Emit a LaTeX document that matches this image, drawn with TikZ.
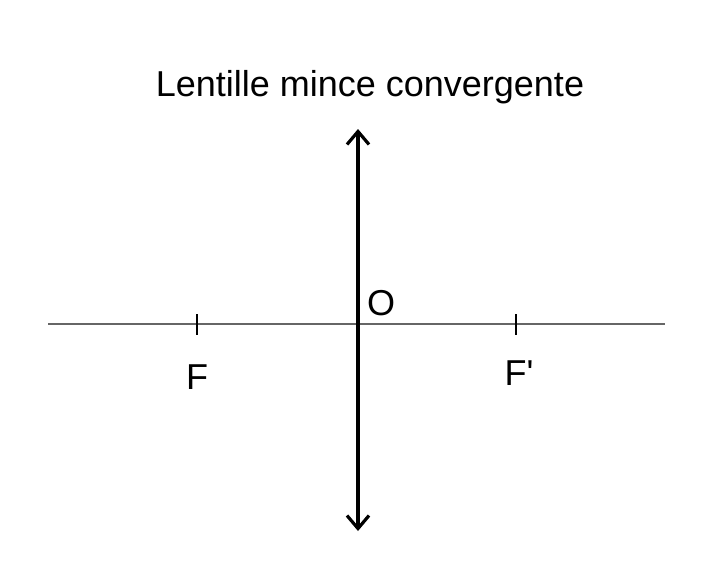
\documentclass[tikz,border=0pt]{standalone}
\usepackage{fontspec}
\setmainfont{Liberation Sans}
\newfontfamily\nomapfont{Liberation Sans}
\usetikzlibrary{arrows.meta}
\tikzset{
  axisline/.style={draw=black!60, line width=1.5pt},
  lensline/.style={draw=black, line width=3.2pt, {Straight Barb[length=13pt,width=22pt]}-{Straight Barb[length=13pt,width=22pt]}},
  tickline/.style={draw=black, line width=1.8pt},
  lbl/.style={font=\fontsize{36}{42}\selectfont, inner sep=0pt},
}
\begin{document}
\begin{tikzpicture}[x=1pt,y=-1pt]
\useasboundingbox (0,0) rectangle (728,570);
\node[lbl] (title) at (370,87) {Lentille mince convergente};
\coordinate (axL) at (48,324);
\coordinate (axR) at (665,324);
\draw[axisline] (axL) -- (axR);
\coordinate (lensT) at (358,129);
\coordinate (lensB) at (358,531);
\draw[lensline] (lensB) -- (lensT);
\coordinate (Ft) at (197,314);
\coordinate (Fb) at (197,335);
\draw[tickline] (Ft) -- (Fb);
\coordinate (Fpt) at (516,314);
\coordinate (Fpb) at (516,335);
\draw[tickline] (Fpt) -- (Fpb);
\node[lbl] (F) at (197,377) {F};
\node[lbl] (Fp) at (519,373) {\nomapfont F'};
\node[lbl] (O) at (381,303) {O};
\end{tikzpicture}
\end{document}
